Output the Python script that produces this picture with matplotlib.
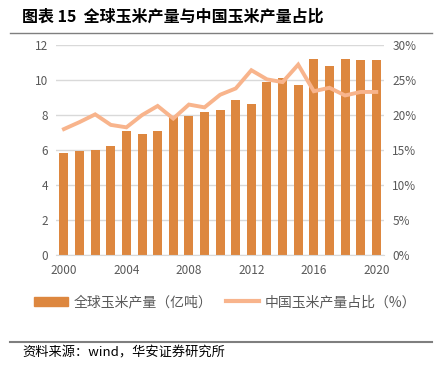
import numpy as np
import matplotlib
matplotlib.use("Agg")
import matplotlib.pyplot as plt
from matplotlib.lines import Line2D
from matplotlib.patches import Patch

plt.rcParams['font.family'] = ['Noto Sans CJK SC', 'DejaVu Sans']

years = list(range(2000, 2021))
world_output = [5.85, 5.97, 6.00, 6.22, 7.11, 6.94, 7.09, 7.87, 7.96, 8.17, 8.29,
                8.84, 8.65, 9.89, 10.13, 9.70, 11.20, 10.78, 11.20, 11.16, 11.12]
china_share = [18.0, 19.0, 20.1, 18.6, 18.25, 20.0, 21.3, 19.5, 21.5, 21.1, 22.9,
               23.8, 26.4, 25.1, 24.7, 27.2, 23.4, 23.9, 22.8, 23.3, 23.3]
xtick_labels = ['2000', '2004', '2008', '2012', '2016', '2020']

bar_color = '#DD873F'
line_color = '#F8B48C'
text_gray = '#595959'

fig = plt.figure(figsize=(4.42, 3.72), dpi=100)
ax = fig.add_axes([0.127, 0.314, 0.742, 0.565])
ax2 = ax.twinx()

x = np.arange(len(years))
ax.bar(x, world_output, width=0.58, color=bar_color, zorder=2)
ax2.plot(x, china_share, color=line_color, lw=2.8, solid_joinstyle='miter', zorder=3)

ax.set_ylim(0, 12)
ax.set_yticks(range(0, 13, 2))
ax2.set_ylim(0, 30)
ax2.set_yticks(range(0, 31, 5))
ax2.set_yticklabels([f'{v}%' for v in range(0, 31, 5)])
ax.set_xlim(-0.5, 20.5)
ax.set_xticks([years.index(int(t)) for t in xtick_labels])
ax.set_xticklabels(xtick_labels)

ax.yaxis.grid(True, color='#D9D9D9', lw=1, zorder=0)
ax.set_axisbelow(True)
for a in (ax, ax2):
    for s in a.spines.values():
        s.set_visible(False)
    a.tick_params(length=0, labelsize=8.5, labelcolor=text_gray, pad=6)
ax.spines['bottom'].set_visible(True)
ax.spines['bottom'].set_color('#D9D9D9')

handles = [Patch(color=bar_color), Line2D([], [], color=line_color, lw=3)]
labels = ['全球玉米产量（亿吨）', '中国玉米产量占比（%）']
fig.legend(handles, labels, loc='center', bbox_to_anchor=(0.51, 0.188), ncol=2,
           frameon=False, fontsize=10, labelcolor=text_gray, handlelength=2.4,
           handleheight=0.6, columnspacing=1.0, handletextpad=0.4)

fig.text(0.05, 0.955, '图表 15  全球玉米产量与中国玉米产量占比', fontsize=11.5,
         fontweight='bold', va='center', ha='left')
fig.add_artist(Line2D([0.023, 0.977], [0.911, 0.911], color='#7F7F7F', lw=1))
fig.add_artist(Line2D([0.023, 0.977], [0.081, 0.081], color='#7F7F7F', lw=1.5))
fig.text(0.05, 0.052, '资料来源：wind，华安证券研究所', fontsize=9.5, va='center', ha='left')

fig.savefig('out.png', dpi=100)
